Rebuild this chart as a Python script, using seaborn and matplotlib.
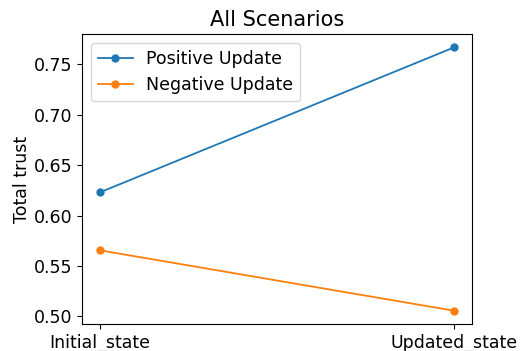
import matplotlib
matplotlib.use("Agg")
import matplotlib.pyplot as plt
import seaborn as sns
import pandas as pd

states = ["Initial_state", "Updated_state"]
positive_update = [0.623, 0.767]
negative_update = [0.5655, 0.5055]
series_names = ["Positive Update", "Negative Update"]

df = pd.DataFrame({
    "state": states * 2,
    "trust": positive_update + negative_update,
    "scenario": [series_names[0]] * 2 + [series_names[1]] * 2,
})

plt.rcParams["font.size"] = 12.5
fig = plt.figure(figsize=(5.2, 3.51), dpi=100)
ax = fig.add_axes([0.158, 0.077, 0.75, 0.826])

sns.lineplot(data=df, x="state", y="trust", hue="scenario",
             hue_order=series_names, palette=["#1f77b4", "#ff7f0e"],
             marker="o", markersize=6, markeredgewidth=0, linewidth=1.3,
             ax=ax)

ax.set_title("All Scenarios", fontsize=15)
ax.set_xlabel("")
ax.set_ylabel("Total trust", labelpad=2)
ax.set_yticks([0.50, 0.55, 0.60, 0.65, 0.70, 0.75])
ax.legend(title=None, loc="upper left")

fig.savefig("out.png", dpi=100)
